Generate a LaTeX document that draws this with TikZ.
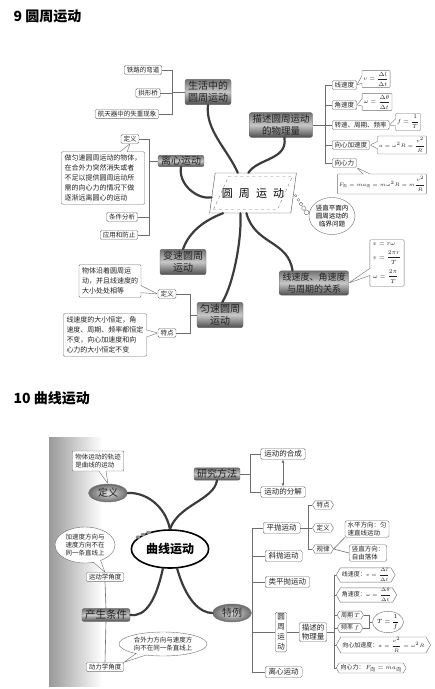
\documentclass[tikz,border=0pt]{standalone}
\usepackage{fontspec}
\usepackage{amsmath}
\setmainfont{Noto Sans CJK SC}
\usetikzlibrary{positioning,arrows.meta,calc,shapes.geometric,shapes.callouts,shapes.symbols}
\definecolor{ink}{HTML}{222222}
\definecolor{wire}{HTML}{6E6E6E}
\definecolor{bark}{HTML}{3C3C3C}

\begin{document}
\begin{tikzpicture}[x=1pt,y=-1pt,
  leaf/.style={draw=wire,fill=white,rounded corners=1.5pt,inner xsep=2.5pt,inner ysep=1.5pt,font=\fontsize{6.5}{7.5}\selectfont,text=ink},
  item/.style={leaf,inner xsep=3.5pt,inner ysep=2pt,font=\fontsize{7.5}{8.5}\selectfont},
  tagbox/.style={signal,signal to=west and east,signal pointer angle=120,draw=wire,fill=white,inner xsep=1.5pt,inner ysep=1.2pt,font=\fontsize{6}{7}\selectfont,text=ink},
  topic/.style={draw=black!60,rounded corners=2pt,top color=black!55,bottom color=black!70,middle color=black!22,align=center,inner xsep=3pt,inner ysep=2pt,font=\fontsize{10}{12}\selectfont,text=ink},
  oval/.style={ellipse,draw=black!55,inner color=black!12,outer color=black!58,inner sep=1pt,minimum width=39,minimum height=18,font=\fontsize{10}{12}\selectfont,text=ink},
  note/.style={rectangle callout,draw=wire,fill=white,rounded corners=1pt,align=left,inner sep=3pt,font=\fontsize{7}{10}\selectfont,text=ink},
  formula/.style={note,align=center,inner sep=1.5pt,font=\fontsize{6}{7}\selectfont},
  bubble/.style={ellipse callout,draw=wire,fill=white,align=left,inner sep=0pt,font=\fontsize{6.5}{8}\selectfont,text=ink},
  link/.style={draw=wire,line width=0.6pt},
  limb/.style={draw=bark,line width=2.2pt,line cap=round},
  pair/.style={link,{Latex[length=3pt,width=3pt]}-{Latex[length=3pt,width=3pt]}}]
\useasboundingbox (0,0) rectangle (435,689);
\fill[white] (0,0) rectangle (435,689);

\node[anchor=west,font=\fontsize{14}{16}\selectfont\bfseries] (title9) at (10,16) {9 圆周运动};
\node[trapezium,trapezium left angle=73,trapezium right angle=107,trapezium stretches=true,minimum width=87,minimum height=40,draw=black!70,fill=white,font=\fontsize{11}{13}\selectfont] (hub9) at (253,193) {圆\,\, 周\,\, 运\,\, 动};
\node[trapezium,trapezium left angle=73,trapezium right angle=107,trapezium stretches=true,minimum width=79,minimum height=33,draw=black!50,dashed] (hub9in) at (253,193) {};

\node[topic] (life) at (208,92) {生活中的\\圆周运动};
\node[topic,font=\fontsize{9.5}{12}\selectfont] (desc) at (281,125) {描述圆周运动\\的物理量};
\node[topic,inner ysep=1pt] (lixin) at (181,161) {离心运动};
\node[topic] (biansu) at (183,262) {变速圆周\\运动};
\node[topic] (yunsu) at (220,315) {匀速圆周\\运动};
\node[topic,font=\fontsize{9}{12}\selectfont] (rel) at (314,283) {线速度、角速度\\与周期的关系};
\node[ellipse,draw=wire,fill=white,inner sep=0pt,minimum width=46,minimum height=37,align=center,font=\fontsize{6.5}{8}\selectfont] (crit) at (332,216) {竖直平面内\\圆周运动的\\临界问题};

\draw[limb] (hub9.127) .. controls (228,150) and (205,130) .. (life.south);
\draw[limb] (hub9.103) .. controls (258,158) and (288,160) .. (desc.285);
\draw[limb] (hub9.186) .. controls (198,200) and (178,185) .. (lixin.south);
\draw[limb] (hub9.214) .. controls (200,222) and (188,235) .. (biansu.north);
\draw[limb] (hub9.238) .. controls (242,240) and (233,285) .. (yunsu.80);
\draw[limb] (hub9.252) .. controls (255,245) and (288,240) .. (rel.150);
\foreach \k/\r in {0.12/1.2,0.3/1.5,0.48/1.8,0.66/2.1,0.84/2.4}
  \draw[wire,fill=white] ($(hub9.east)!\k!(crit.west)$) circle[radius=\r pt];

\node[leaf] (rail) at (143,70) {铁路的弯道};
\node[leaf] (arch) at (148,93) {拱形桥};
\node[leaf] (craft) at (127,114) {航天器中的失重现象};
\coordinate (lifej) at (172,92);
\draw[link] (life.west) -- (lifej) (rail.east) -| (lifej) (arch.east) -| (lifej) (craft.east) -| (lifej);

\node[leaf,anchor=west] (vlin) at (332,85) {线速度};
\node[leaf,anchor=west] (vang) at (332,105) {角速度};
\node[leaf,anchor=west] (turn) at (332,125) {转速、周期、频率};
\node[leaf,anchor=west] (acc) at (332,145) {向心加速度};
\node[leaf,anchor=west] (force) at (332,163) {向心力};
\coordinate (descj) at (325,125);
\draw[link] (desc.east) -- (descj) (vlin.west) -| (descj) (vang.west) -| (descj) (turn.west) -- (descj) (acc.west) -| (descj) (force.west) -| (descj);
\node[formula,callout absolute pointer={(vlin.east)}] (fv) at (376,79) {$v=\dfrac{\Delta l}{\Delta t}$};
\node[formula,callout absolute pointer={(vang.east)}] (fw) at (377,102) {$\omega=\dfrac{\Delta \theta}{\Delta t}$};
\node[formula,callout absolute pointer={(turn.east)}] (ff) at (408,122) {$f=\dfrac{1}{T}$};
\node[formula,font=\fontsize{5.5}{6.5}\selectfont,callout absolute pointer={(acc.east)}] (fa) at (402,145) {$a=\omega^2R=\dfrac{v^2}{R}$};
\node[formula,font=\fontsize{5.2}{6}\selectfont,inner ysep=2.5pt,callout absolute pointer={(force.south east)}] (fF) at (382,184) {$F_{\text{向}}=ma_{\text{向}}=m\omega^2R=m\dfrac{v^2}{R}$};
\node[formula,align=left,inner sep=3pt,callout absolute pointer={(rel.east)}] (frel) at (387,263) {$v=r\omega$\\[4pt]$v=\dfrac{2\pi r}{T}$\\[4pt]$\omega=\dfrac{2\pi}{T}$};

\node[leaf] (ldef) at (130,139) {定义};
\node[leaf] (lcond) at (122,217) {条件分析};
\node[leaf] (luse) at (119,235) {应用和防止};
\node[note,callout absolute pointer={(ldef.south)}] (ltxt) at (103,178) {做匀速圆周运动的物体，\\在合外力突然消失或者\\不足以提供圆周运动所\\需的向心力的情况下做\\逐渐远离圆心的运动};
\coordinate (lixj) at (149,161);
\draw[link] (lixin.west) -- (lixj) (ldef.east) -| (lixj) (lcond.east) -| (lixj) (luse.east) -| (lixj);

\node[leaf] (ydef) at (167,294) {定义};
\node[leaf] (ytrait) at (167,333) {特点};
\coordinate (yunj) at (190,315);
\draw[link] (yunsu.west) -- (yunj) (ydef.east) -| (yunj) (ytrait.east) -| (yunj);
\node[note,callout absolute pointer={(ydef.west)}] (ytxt) at (110,281) {物体沿着圆周运\\动，并且线速度的\\大小处处相等};
\node[note,callout absolute pointer={(ytrait.west)}] (ztxt) at (105,335) {线速度的大小恒定，角\\速度、周期、频率都恒定\\不变，向心加速度和向\\心力的大小恒定不变};

\node[anchor=west,font=\fontsize{14}{16}\selectfont\bfseries] (title10) at (10,398) {10 曲线运动};
\shade[left color=black!40,right color=white] (49,437) rectangle (102,686);

\node[ellipse,draw=black,line width=1.6pt,fill=white,minimum width=76,minimum height=38,font=\fontsize{12}{14}\selectfont\bfseries] (hub10) at (170,549) {曲线运动};
\foreach \p in {(138,537),(143,534.5),(148.5,532.5)}
  \fill[black!45] \p ellipse[x radius=2.4pt,y radius=1.6pt];

\node[oval] (def10) at (108,493) {定义};
\node[note,font=\fontsize{6.5}{8}\selectfont,callout absolute pointer={(def10.north)}] (deftxt) at (98,461) {物体运动的轨迹\\是曲线的运动};
\node[topic,inner ysep=1.5pt] (study) at (217,474) {研究方法};
\node[item] (compose) at (283,454) {运动的合成};
\node[item] (split) at (283,492) {运动的分解};
\coordinate (studyj) at (250,474);
\draw[link] (study.east) -- (studyj) (compose.west) -| (studyj) (split.west) -| (studyj);
\draw[pair] (split.north) -- (compose.south);

\draw[limb] (def10.east) .. controls (145,492) and (165,505) .. (hub10.north);
\draw[limb] (study.south) .. controls (214,500) and (178,505) .. (hub10.north);

\node[topic,inner ysep=1.5pt,font=\fontsize{10.5}{12}\selectfont] (cond) at (106,615) {产生条件};
\node[leaf] (kin) at (105,577) {运动学角度};
\node[leaf] (dyn) at (105,667) {动力学角度};
\draw[link] (kin.south) -- (cond.north) (cond.south) -- (dyn.north);
\node[bubble,minimum width=60,minimum height=36,callout absolute pointer={(kin.north)}] (kintxt) at (85,545) {加速度方向与\\速度方向不在\\同一条直线上};
\node[bubble,minimum width=88,minimum height=24,callout absolute pointer={(dyn.north east)}] (dyntxt) at (163,644) {合外力方向与速度方\\向不在同一条直线上};

\node[oval] (special) at (232,613) {特例};
\draw[limb] (hub10.250) .. controls (156,600) and (146,617) .. (cond.east);
\draw[limb] (hub10.290) .. controls (186,600) and (200,613) .. (special.west);

\node[item,anchor=west] (flat) at (263,528) {平抛运动};
\node[item,anchor=west] (oblq) at (265,556) {斜抛运动};
\node[item,anchor=west] (quasi) at (265,582) {类平抛运动};
\node[leaf,align=center,font=\fontsize{7.5}{10}\selectfont,inner xsep=2pt] (circ) at (281,632) {圆\\周\\运\\动};
\node[leaf,align=center,font=\fontsize{7.5}{9}\selectfont] (desc10) at (313,632) {描述的\\物理量};
\node[item,anchor=west] (away) at (265,672) {离心运动};
\coordinate (specj) at (252,613);
\draw[link] (special.east) -- (specj) (flat.west) -| (specj) (oblq.west) -| (specj) (quasi.west) -| (specj) (circ.west) -| (specj) (away.west) -| (specj);
\draw[link] (circ.east) -- (desc10.west);

\node[tagbox,font=\fontsize{6.5}{7.5}\selectfont] (ftrait) at (323,505) {特点};
\node[tagbox,font=\fontsize{6.5}{7.5}\selectfont] (fdef) at (323,528) {定义};
\node[tagbox,font=\fontsize{6.5}{7.5}\selectfont] (flaw) at (323,549) {规律};
\coordinate (flatj) at (308,528);
\draw[link] (flat.east) -- (flatj) (ftrait.west) -| (flatj) (fdef.west) -- (flatj) (flaw.west) -| (flatj);
\node[leaf,align=left,rounded corners=2pt] (horiz) at (367,529) {水平方向：匀\\速直线运动};
\node[leaf,align=left,rounded corners=2pt] (vert) at (368,553) {竖直方向：\\自由落体};
\draw[link] (flaw.east) -- (horiz.south west) (flaw.east) -- (vert.west);

\node[tagbox,anchor=west,inner ysep=0.5pt] (qv) at (336,575) {线速度：{\fontsize{5.5}{6}\selectfont$v=\dfrac{\Delta l}{\Delta t}$}};
\node[tagbox,anchor=west,inner ysep=0.5pt] (qw) at (336,595) {角速度：{\fontsize{5.5}{6}\selectfont$\omega=\dfrac{\Delta\theta}{\Delta t}$}};
\node[tagbox,anchor=west] (qT) at (337,615) {周期$\,T$};
\node[tagbox,anchor=west] (qf) at (337,628) {频率$\,f$};
\node[tagbox,anchor=west,inner ysep=0.5pt] (qa) at (336,645) {向心加速度：{\fontsize{5.5}{6}\selectfont$a=\dfrac{v^2}{R}=\omega^2R$}};
\node[tagbox,anchor=west] (qF) at (336,668) {向心力：\,$F_{\text{向}}=ma_{\text{向}}$};
\coordinate (descj10) at (334,632);
\draw[link] (desc10.east) -- (descj10) (qv.west) -| (descj10) (qw.west) -| (descj10) (qT.west) -| (descj10) (qf.west) -| (descj10) (qa.west) -| (descj10) (qF.west) -| (descj10);
\node[ellipse,draw=wire,fill=white,inner sep=0pt,minimum width=29,minimum height=19,font=\fontsize{6.5}{7.5}\selectfont] (tf) at (388,622) {$T=\dfrac{1}{f}$};
\coordinate (tfj) at (369,622);
\draw[link] (qT.east) -| (tfj) (qf.east) -| (tfj) (tfj) -- (tf.west);
\end{tikzpicture}
\end{document}
